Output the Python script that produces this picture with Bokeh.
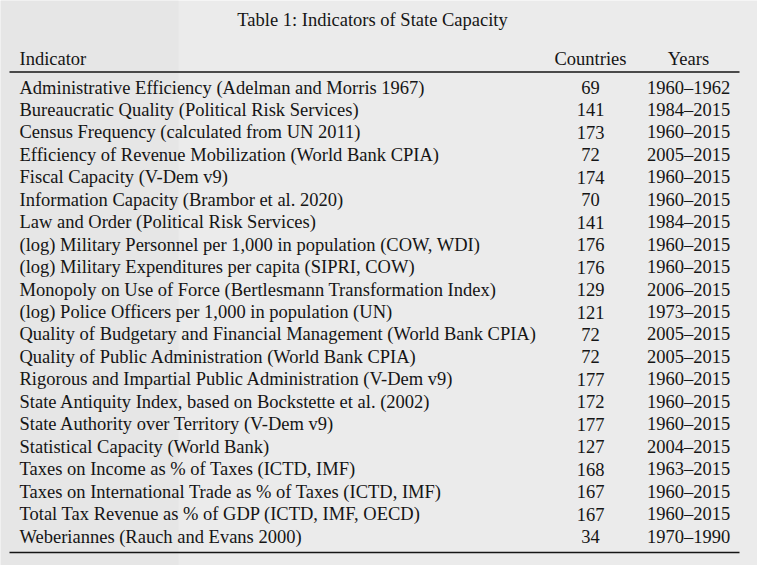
from bokeh.plotting import figure
from bokeh.models import Range1d, ColumnDataSource
from bokeh.core.properties import value
from bokeh.embed import file_html
from bokeh.resources import INLINE

title = "Table 1: Indicators of State Capacity"
headers = ["Indicator", "Countries", "Years"]

indicators = [
    "Administrative Efficiency (Adelman and Morris 1967)",
    "Bureaucratic Quality (Political Risk Services)",
    "Census Frequency (calculated from UN 2011)",
    "Efficiency of Revenue Mobilization (World Bank CPIA)",
    "Fiscal Capacity (V-Dem v9)",
    "Information Capacity (Brambor et al. 2020)",
    "Law and Order (Political Risk Services)",
    "(log) Military Personnel per 1,000 in population (COW, WDI)",
    "(log) Military Expenditures per capita (SIPRI, COW)",
    "Monopoly on Use of Force (Bertlesmann Transformation Index)",
    "(log) Police Officers per 1,000 in population (UN)",
    "Quality of Budgetary and Financial Management (World Bank CPIA)",
    "Quality of Public Administration (World Bank CPIA)",
    "Rigorous and Impartial Public Administration (V-Dem v9)",
    "State Antiquity Index, based on Bockstette et al. (2002)",
    "State Authority over Territory (V-Dem v9)",
    "Statistical Capacity (World Bank)",
    "Taxes on Income as % of Taxes (ICTD, IMF)",
    "Taxes on International Trade as % of Taxes (ICTD, IMF)",
    "Total Tax Revenue as % of GDP (ICTD, IMF, OECD)",
    "Weberiannes (Rauch and Evans 2000)",
]
countries = [69, 141, 173, 72, 174, 70, 141, 176, 176, 129, 121, 72, 72, 177, 172, 177, 127, 168, 167, 167, 34]
years = ["1960–1962", "1984–2015", "1960–2015", "2005–2015", "1960–2015", "1960–2015",
         "1984–2015", "1960–2015", "1960–2015", "2006–2015", "1973–2015", "2005–2015",
         "2005–2015", "1960–2015", "1960–2015", "1960–2015", "2004–2015", "1963–2015",
         "1960–2015", "1960–2015", "1970–1990"]

W, H = 757, 565
FONT = value("Liberation Serif")
FS = "18.5px"

p = figure(width=W, height=H, output_backend="svg", toolbar_location=None,
           x_range=Range1d(0, W), y_range=Range1d(H, 0), min_border=0)
p.axis.visible = False
p.grid.visible = False
p.outline_line_color = None
p.background_fill_color = "#ebebeb"
p.border_fill_color = "#ebebeb"

# faint darker panel on the left (backdrop)
p.quad(left=[0], right=[178], top=[0], bottom=[H], fill_color="#e6e6e6", line_color=None)

x_ind, x_cty, x_yrs = 19, 590, 688
y_title, y_head, y_first, dy = 19, 58, 87, 22.45
rule_x0, rule_x1 = 9, 739
y_rule1, y_rule2 = 71.5, 552

ys = [y_first + i * dy for i in range(len(indicators))]
src = ColumnDataSource(dict(ind=indicators, cty=[str(c) for c in countries], yrs=years, y=ys,
                            xi=[x_ind] * len(ys), xc=[x_cty] * len(ys), xy=[x_yrs] * len(ys)))

common = dict(text_font=FONT, text_font_size=FS, text_color="#151515", text_baseline="middle")
p.text(x=[372], y=[y_title], text=[title], text_align="center", **common)
p.text(x=[x_ind], y=[y_head], text=[headers[0]], text_align="left", **common)
p.text(x=[x_cty], y=[y_head], text=[headers[1]], text_align="center", **common)
p.text(x=[x_yrs], y=[y_head], text=[headers[2]], text_align="center", **common)

p.text(x="xi", y="y", text="ind", source=src, text_align="left", **common)
p.text(x="xc", y="y", text="cty", source=src, text_align="center", **common)
p.text(x="xy", y="y", text="yrs", source=src, text_align="center", **common)

p.segment(x0=[rule_x0, rule_x0], x1=[rule_x1, rule_x1], y0=[y_rule1, y_rule2], y1=[y_rule1, y_rule2],
          line_color="#151515", line_width=1.6)

open("out.html", "w").write(file_html(p, INLINE))
